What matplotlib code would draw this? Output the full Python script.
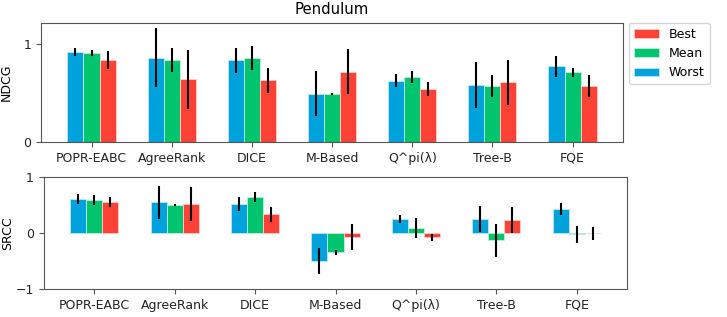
import matplotlib
matplotlib.use("Agg")
import matplotlib.pyplot as plt
import numpy as np

categories = ["POPR-EABC", "AgreeRank", "DICE", "M-Based", "Q^pi(λ)", "Tree-B", "FQE"]

ndcg_worst = [0.92, 0.855, 0.83, 0.49, 0.625, 0.58, 0.77]
ndcg_worst_err = [0.04, 0.30, 0.13, 0.23, 0.07, 0.23, 0.11]
ndcg_mean = [0.905, 0.837, 0.855, 0.49, 0.66, 0.573, 0.71]
ndcg_mean_err = [0.03, 0.12, 0.12, 0.01, 0.06, 0.11, 0.045]
ndcg_best = [0.834, 0.64, 0.627, 0.715, 0.536, 0.607, 0.573]
ndcg_best_err = [0.09, 0.30, 0.13, 0.23, 0.07, 0.23, 0.11]

srcc_worst = [0.608, 0.554, 0.524, -0.50, 0.259, 0.259, 0.428]
srcc_worst_err = [0.09, 0.30, 0.13, 0.23, 0.07, 0.23, 0.11]
srcc_mean = [0.59, 0.512, 0.651, -0.343, 0.096, -0.127, -0.018]
srcc_mean_err = [0.09, 0.02, 0.09, 0.05, 0.18, 0.30, 0.15]
srcc_best = [0.554, 0.524, 0.337, -0.072, -0.072, 0.235, -0.005]
srcc_best_err = [0.09, 0.30, 0.13, 0.23, 0.065, 0.23, 0.11]

c_worst = "#00A2DC"
c_mean = "#00C46E"
c_best = "#FF4136"

fig = plt.figure(figsize=(7.27, 3.17), dpi=100)
ax1 = fig.add_axes([0.0564, 0.552, 0.8006, 0.376])
ax2 = fig.add_axes([0.0600, 0.0883, 0.803, 0.352])

x = np.arange(len(categories))
w = 0.2
ekw = dict(ecolor="black", elinewidth=1.5, capsize=0)

def draw(ax, worst, we, mean, me, best, be):
    ax.bar(x - w, worst, w, yerr=we, color=c_worst, edgecolor="#bfe6f5", linewidth=0.6, label="Worst", error_kw=ekw)
    ax.bar(x, mean, w, yerr=me, color=c_mean, edgecolor="#bff0da", linewidth=0.6, label="Mean", error_kw=ekw)
    ax.bar(x + w, best, w, yerr=be, color=c_best, edgecolor="#ffd0cc", linewidth=0.6, label="Best", error_kw=ekw)
    ax.set_xticks(x)
    ax.set_xticklabels(categories, fontsize=9)
    ax.tick_params(axis="both", labelsize=9, colors="#222222")
    ax.tick_params(axis="both", color="#555555")
    for s in ax.spines.values():
        s.set_color("#555555")

draw(ax1, ndcg_worst, ndcg_worst_err, ndcg_mean, ndcg_mean_err, ndcg_best, ndcg_best_err)
draw(ax2, srcc_worst, srcc_worst_err, srcc_mean, srcc_mean_err, srcc_best, srcc_best_err)

ax1.set_yticks([0, 1])
ax1.set_ylabel("NDCG", fontsize=9)
ax1.yaxis.set_label_coords(-0.048, 0.5)
ax1.set_title("Pendulum", fontsize=10.75)
ax2.set_ylim(-1, 1)
ax2.set_yticks([-1, 0, 1])
ax2.set_ylabel("SRCC", fontsize=9)
ax2.yaxis.set_label_coords(-0.051, 0.5)

h, l = ax1.get_legend_handles_labels()
ax1.legend(h[::-1], l[::-1], loc="upper left", bbox_to_anchor=(1.01, 1.0), fontsize=9, borderaxespad=0)

fig.savefig("out.png", dpi=100)
